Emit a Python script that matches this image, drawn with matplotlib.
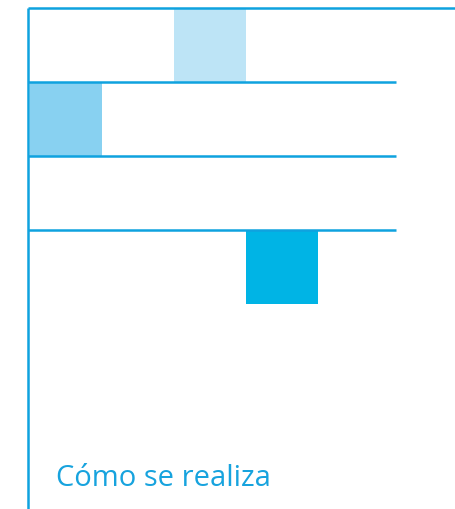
import matplotlib
matplotlib.use("Agg")
import matplotlib.pyplot as plt
from matplotlib.patches import Rectangle

# Data: highlighted cells in the grid (column, row, shade)
cell_cols = [2, 0, 3]
cell_rows = [0, 1, 3]
cell_colors = ["#BDE4F6", "#88D1F1", "#00B4E5"]
grid_rows = [1, 2, 3]          # horizontal divider rows (below the top edge)
title_text = "Cómo se realiza"

line_color = "#0FA2DF"
text_color = "#17A3DE"

W, H = 455, 509
CW, CH = 72.0, 74.0           # cell size in pixels
X0, Y0 = 28.0, 8.0            # grid origin in pixels

fig = plt.figure(figsize=(W / 100, H / 100), dpi=100)
ax = fig.add_axes([0, 0, 1, 1])
ax.set_xlim(-X0 / CW, (W - X0) / CW)
ax.set_ylim((H - Y0) / CH, -Y0 / CH)
ax.axis("off")

for c, r, col in zip(cell_cols, cell_rows, cell_colors):
    ax.add_patch(Rectangle((c + 0.03, r), 1, 1, facecolor=col, edgecolor="none", zorder=1))

lw = 1.8
# top edge running to the right border
ax.plot([0, (W - X0) / CW], [0, 0], color=line_color, lw=lw, solid_capstyle="butt", zorder=3)
for r in grid_rows:
    ax.plot([0, (396 - X0) / CW], [r, r], color=line_color, lw=lw, solid_capstyle="butt", zorder=3)
# vertical left edge
ax.plot([0, 0], [0, (H - Y0) / CH], color=line_color, lw=lw, solid_capstyle="butt", zorder=3)

ax.text((56 - X0) / CW, (486 - Y0) / CH, title_text, color=text_color,
        fontsize=21, family=["Open Sans", "DejaVu Sans"], va="baseline", ha="left")

fig.savefig("out.png", dpi=100)
